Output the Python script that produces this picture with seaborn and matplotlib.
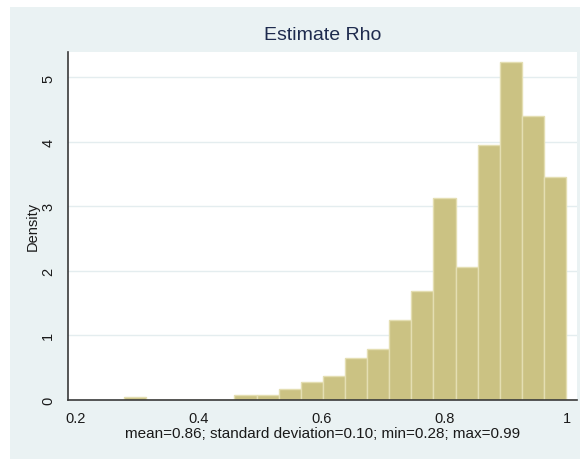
import pandas as pd
import matplotlib
matplotlib.use("Agg")
import matplotlib.pyplot as plt
from matplotlib.patches import Rectangle
import seaborn as sns

# Histogram of the estimated rho: 20 equal-width bins starting at the minimum
bin_start = 0.278
bin_width = 0.036
bin_mids = [0.296, 0.332, 0.368, 0.404, 0.440, 0.476, 0.512, 0.548, 0.584, 0.620,
            0.656, 0.692, 0.728, 0.764, 0.800, 0.836, 0.872, 0.908, 0.944, 0.980]
density = [0.042, 0.0, 0.0, 0.0, 0.0, 0.075, 0.075, 0.17, 0.27, 0.37,
           0.64, 0.78, 1.24, 1.69, 3.13, 2.06, 3.96, 5.24, 4.41, 3.45]

x_ticks = [0.2, 0.4, 0.6, 0.8, 1.0]
x_tick_labels = ["0.2", "0.4", "0.6", "0.8", "1"]
y_ticks = [0, 1, 2, 3, 4, 5]
y_tick_labels = ["0", "1", "2", "3", "4", "5"]

title = "Estimate Rho"
note = "mean=0.86; standard deviation=0.10; min=0.28; max=0.99"

BG = "#EAF2F3"
BAR = "#CBC283"
BAR_EDGE = "#E4DEB2"
AXIS = "#3A3A3A"

sns.set_theme(style="white")
plt.rcParams["font.family"] = ["Liberation Sans", "DejaVu Sans"]

W, H = 580, 460
fig = plt.figure(figsize=(W / 100, H / 100), dpi=100, facecolor="white")
fig.patches.append(Rectangle((10 / W, 0), 1, 1 - 8 / H, transform=fig.transFigure,
                             facecolor=BG, edgecolor="none", zorder=-10))

left, right, top, bottom = 67.7, 576.7, 52.7, 400.7
ax = fig.add_axes([left / W, 1 - bottom / H, (right - left) / W, (bottom - top) / H])
ax.set_facecolor("white")

hist_df = pd.DataFrame({"rho": bin_mids, "density": density})
n_bins = len(bin_mids)
sns.histplot(data=hist_df, x="rho", weights="density", stat="count",
             binwidth=bin_width, binrange=(bin_start, bin_start + n_bins * bin_width),
             color=BAR, edgecolor=BAR_EDGE, linewidth=1.0, alpha=1.0, ax=ax)

ax.set_xlim(0.1865, 1.0153)
ax.set_ylim(0, 5.40)
ax.set_xticks(x_ticks, x_tick_labels)
ax.set_yticks(y_ticks, y_tick_labels)

ax.yaxis.grid(True, color="#E4EDEF", linewidth=1.0)
ax.xaxis.grid(False)
ax.set_axisbelow(True)

for side in ("top", "right"):
    ax.spines[side].set_visible(False)
for side in ("left", "bottom"):
    ax.spines[side].set_color(AXIS)
    ax.spines[side].set_linewidth(1.2)

ax.tick_params(axis="both", direction="out", length=5, width=1.0, color=AXIS,
               labelsize=10.5, labelcolor="#1a1a1a", pad=3)
ax.tick_params(axis="y", pad=4)
for lab in ax.get_yticklabels():
    lab.set_rotation(90)
    lab.set_va("center")

ax.set_xlabel(note, fontsize=11, color="#1a1a1a", labelpad=1)
ax.set_ylabel("Density", fontsize=10.5, color="#1a1a1a", labelpad=1)
ax.set_title(title, fontsize=14, color="#1E2B4E", pad=9)

fig.savefig("out.png", dpi=100, facecolor=fig.get_facecolor())
